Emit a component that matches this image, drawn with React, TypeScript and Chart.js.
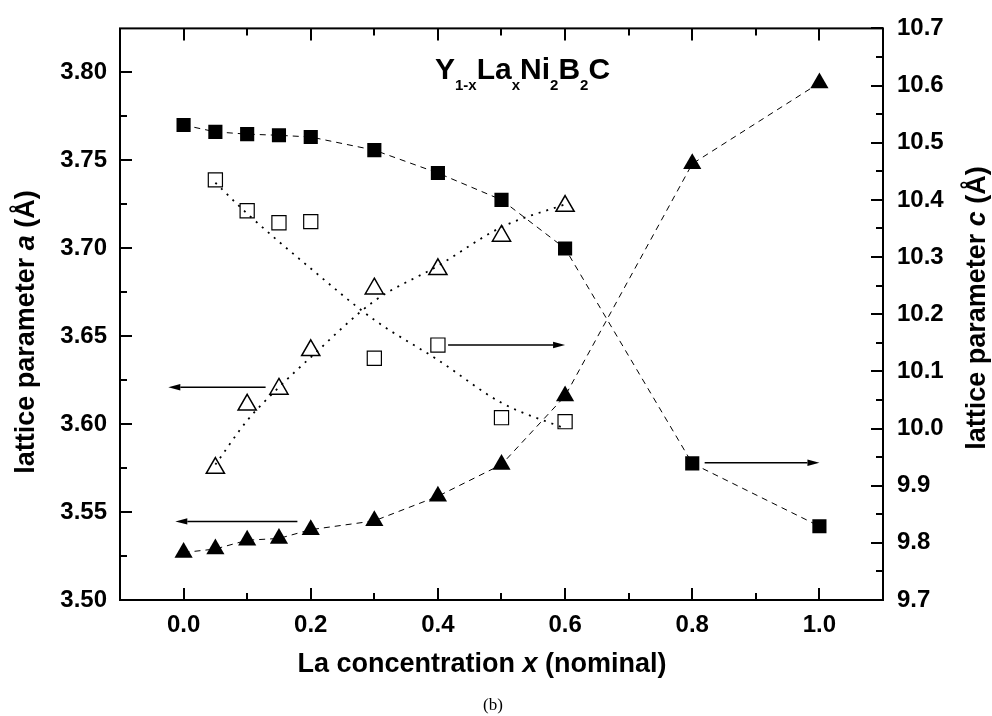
import React, { useEffect, useRef } from 'react';
import { Chart, registerables } from 'chart.js';

Chart.register(...registerables);

// ---- data ----
const xFilled = [0, 0.05, 0.1, 0.15, 0.2, 0.3, 0.4, 0.5, 0.6, 0.8, 1.0];
const cFilled = [10.531, 10.519, 10.515, 10.513, 10.51, 10.487, 10.447, 10.4, 10.315, 9.939, 9.829];
const aFilled = [3.527, 3.529, 3.534, 3.535, 3.54, 3.545, 3.559, 3.577, 3.616, 3.748, 3.794];

const xOpen = [0.05, 0.1, 0.15, 0.2, 0.3, 0.4, 0.5, 0.6];
const cOpen = [10.435, 10.381, 10.36, 10.362, 10.123, 10.146, 10.019, 10.012];
const aOpen = [3.575, 3.611, 3.62, 3.642, 3.677, 3.688, 3.707, 3.724];

const xFitA = [0.05, 0.1, 0.15, 0.2, 0.3, 0.4, 0.5, 0.6];
const aFit = [3.577, 3.602, 3.621, 3.638, 3.67, 3.69, 3.712, 3.725];
const xFitC = [0.05, 0.1, 0.2, 0.3, 0.4, 0.5, 0.6];
const cFit = [10.43, 10.376, 10.28, 10.19, 10.12, 10.045, 10.0];

const xTicks = [0, 0.2, 0.4, 0.6, 0.8, 1.0];
const xMinor = [0.1, 0.3, 0.5, 0.7, 0.9];
const aTicks = [3.5, 3.55, 3.6, 3.65, 3.7, 3.75, 3.8];
const aMinor = [3.525, 3.575, 3.625, 3.675, 3.725, 3.775];
const cTicks = [9.7, 9.8, 9.9, 10.0, 10.1, 10.2, 10.3, 10.4, 10.5, 10.6, 10.7];
const cMinor = [9.75, 9.85, 9.95, 10.05, 10.15, 10.25, 10.35, 10.45, 10.55, 10.65];

// arrows: [xFrom, xTo, y, axis]
const arrowXFrom = [0.129, 0.179, 0.416, 0.8195];
const arrowXTo = [-0.024, -0.013, 0.6, 1.0];
const arrowY = [3.621, 3.5447, 10.146, 9.94];
const arrowAxis = ['ya', 'ya', 'yc', 'yc'];

const FONT = "'Liberation Sans', Arial, Helvetica, sans-serif";

const pts = (xs: number[], ys: number[]) => xs.map((x, i) => ({ x, y: ys[i] }));

const decor = {
  id: 'decor',
  afterDatasetsDraw(chart: any) {
    const { ctx, chartArea: ca, scales } = chart;
    const sx = scales.x, sa = scales.ya, sc = scales.yc;
    ctx.save();
    ctx.strokeStyle = '#000';
    ctx.fillStyle = '#000';
    // frame
    ctx.lineWidth = 2;
    ctx.strokeRect(ca.left, ca.top, ca.right - ca.left, ca.bottom - ca.top);
    // ticks
    const major = 12, minor = 7;
    ctx.lineWidth = 2;
    ctx.beginPath();
    const vx = (vals: number[], len: number) => vals.forEach(v => {
      const p = Math.round(sx.getPixelForValue(v));
      ctx.moveTo(p, ca.bottom); ctx.lineTo(p, ca.bottom - len);
      ctx.moveTo(p, ca.top); ctx.lineTo(p, ca.top + len);
    });
    vx(xTicks, major); vx(xMinor, minor);
    const va = (vals: number[], len: number) => vals.forEach(v => {
      const p = Math.round(sa.getPixelForValue(v));
      ctx.moveTo(ca.left, p); ctx.lineTo(ca.left + len, p);
    });
    va(aTicks, major); va(aMinor, minor);
    const vc = (vals: number[], len: number) => vals.forEach(v => {
      const p = Math.round(sc.getPixelForValue(v));
      ctx.moveTo(ca.right, p); ctx.lineTo(ca.right - len, p);
    });
    vc(cTicks, major); vc(cMinor, minor);
    ctx.stroke();

    // arrows
    ctx.lineWidth = 1.5;
    arrowXFrom.forEach((xf, i) => {
      const ys = arrowAxis[i] === 'ya' ? sa : sc;
      const x1 = sx.getPixelForValue(xf), x2 = sx.getPixelForValue(arrowXTo[i]);
      const y = ys.getPixelForValue(arrowY[i]);
      const dir = Math.sign(x2 - x1);
      const hl = 12, hw = 3.2;
      ctx.beginPath();
      ctx.moveTo(x1, y); ctx.lineTo(x2 - dir * hl, y);
      ctx.stroke();
      ctx.beginPath();
      ctx.moveTo(x2, y);
      ctx.lineTo(x2 - dir * hl, y - hw);
      ctx.lineTo(x2 - dir * hl, y + hw);
      ctx.closePath();
      ctx.fill();
    });

    // formula title
    const big = `bold 30px ${FONT}`, small = `bold 15px ${FONT}`;
    const parts: [string, boolean][] = [['Y', true], ['1-x', false], ['La', true], ['x', false], ['Ni', true], ['2', false], ['B', true], ['2', false], ['C', true]];
    let tx = 435;
    ctx.textAlign = 'left';
    ctx.textBaseline = 'alphabetic';
    parts.forEach(([t, isBig]) => {
      ctx.font = isBig ? big : small;
      ctx.fillText(t, tx, isBig ? 79 : 90);
      tx += ctx.measureText(t).width;
    });

    // x axis title
    const xt: [string, boolean][] = [['La concentration ', false], ['x', true], [' (nominal)', false]];
    const fnt = (it: boolean) => `${it ? 'italic ' : ''}bold 27px ${FONT}`;
    let tw = 0;
    xt.forEach(([t, it]) => { ctx.font = fnt(it); tw += ctx.measureText(t).width; });
    let px = 482 - tw / 2;
    xt.forEach(([t, it]) => { ctx.font = fnt(it); ctx.fillText(t, px, 672); px += ctx.measureText(t).width; });

    // y axis titles (rotated)
    const drawV = (italicChar: string, cx: number, cy: number) => {
      const yt: [string, boolean][] = [['lattice parameter ', false], [italicChar, true], [' (\u00C5)', false]];
      let w = 0;
      yt.forEach(([t, it]) => { ctx.font = fnt(it); w += ctx.measureText(t).width; });
      ctx.save();
      ctx.translate(cx, cy);
      ctx.rotate(-Math.PI / 2);
      ctx.textBaseline = 'middle';
      let p = -w / 2;
      yt.forEach(([t, it]) => { ctx.font = fnt(it); ctx.fillText(t, p, 0); p += ctx.measureText(t).width; });
      ctx.restore();
    };
    drawV('a', 27, 332);
    drawV('c', 978, 308);

    // (b)
    ctx.font = `17px 'Liberation Serif', 'Times New Roman', serif`;
    ctx.textAlign = 'center';
    ctx.textBaseline = 'middle';
    ctx.fillText('(b)', 493, 706);
    ctx.restore();
  },
};

export default function App() {
  const ref = useRef<HTMLCanvasElement>(null);
  useEffect(() => {
    if (!ref.current) return;
    const tickFont = { family: FONT, size: 24, weight: 'bold' as const };
    const chart = new Chart(ref.current, {
      type: 'scatter',
      data: {
        datasets: [
          {
            label: 'c (filled squares)', data: pts(xFilled, cFilled), yAxisID: 'yc', showLine: true,
            borderColor: '#000', borderWidth: 1, borderDash: [6, 5], tension: 0,
            pointStyle: 'rect', pointRadius: 10, pointBackgroundColor: '#000', pointBorderColor: '#000', pointBorderWidth: 0,
          },
          {
            label: 'a (filled triangles)', data: pts(xFilled, aFilled), yAxisID: 'ya', showLine: true,
            borderColor: '#000', borderWidth: 1, borderDash: [6, 5], tension: 0,
            pointStyle: 'triangle', pointRadius: 10.5, pointBackgroundColor: '#000', pointBorderColor: '#000', pointBorderWidth: 0,
          },
          {
            label: 'c (open squares)', data: pts(xOpen, cOpen), yAxisID: 'yc', showLine: false,
            pointStyle: 'rect', pointRadius: 10, pointBackgroundColor: 'rgba(0,0,0,0)', pointBorderColor: '#000', pointBorderWidth: 1.2,
          },
          {
            label: 'a (open triangles)', data: pts(xOpen, aOpen), yAxisID: 'ya', showLine: false,
            pointStyle: 'triangle', pointRadius: 10.5, pointBackgroundColor: 'rgba(0,0,0,0)', pointBorderColor: '#000', pointBorderWidth: 1.5,
          },
          {
            label: 'a fit', data: pts(xFitA, aFit), yAxisID: 'ya', showLine: true,
            borderColor: '#000', borderWidth: 1.8, borderDash: [2, 6], tension: 0.4, cubicInterpolationMode: 'monotone',
            pointRadius: 0,
          },
          {
            label: 'c fit', data: pts(xFitC, cFit), yAxisID: 'yc', showLine: true,
            borderColor: '#000', borderWidth: 1.8, borderDash: [2, 6], tension: 0.4, cubicInterpolationMode: 'monotone',
            pointRadius: 0,
          },
        ],
      },
      options: {
        animation: false,
        responsive: false,
        events: [],
        layout: { padding: { top: 26, left: 0, right: 0, bottom: 0 } },
        plugins: { legend: { display: false }, tooltip: { enabled: false }, title: { display: false } },
        scales: {
          x: {
            type: 'linear', position: 'bottom', min: -0.1, max: 1.1,
            grid: { display: false, drawTicks: false }, border: { display: false },
            afterBuildTicks: (s: any) => { s.ticks = xTicks.map(v => ({ value: v })); },
            afterFit: (s: any) => { s.height = 116; },
            ticks: { font: tickFont, color: '#000', padding: 11, maxRotation: 0, autoSkip: false, callback: (v: any) => Number(v).toFixed(1) },
          },
          ya: {
            type: 'linear', position: 'left', min: 3.5, max: 3.825,
            grid: { display: false, drawTicks: false }, border: { display: false },
            afterBuildTicks: (s: any) => { s.ticks = aTicks.map(v => ({ value: v })); },
            afterFit: (s: any) => { s.width = 120; },
            ticks: { font: tickFont, color: '#000', padding: 13, autoSkip: false, callback: (v: any) => Number(v).toFixed(2) },
          },
          yc: {
            type: 'linear', position: 'right', min: 9.7, max: 10.7,
            grid: { display: false, drawTicks: false }, border: { display: false },
            afterBuildTicks: (s: any) => { s.ticks = cTicks.map(v => ({ value: v })); },
            afterFit: (s: any) => { s.width = 109; },
            ticks: { font: tickFont, color: '#000', padding: 14, autoSkip: false, callback: (v: any) => Number(v).toFixed(1) },
          },
        },
      },
      plugins: [decor],
    } as any);
    return () => chart.destroy();
  }, []);
  return (
    <div style={{ position: 'fixed', left: 0, top: 0, width: 992, height: 716, background: '#fff' }}>
      <canvas ref={ref} width={992} height={716} style={{ display: 'block' }} />
    </div>
  );
}
